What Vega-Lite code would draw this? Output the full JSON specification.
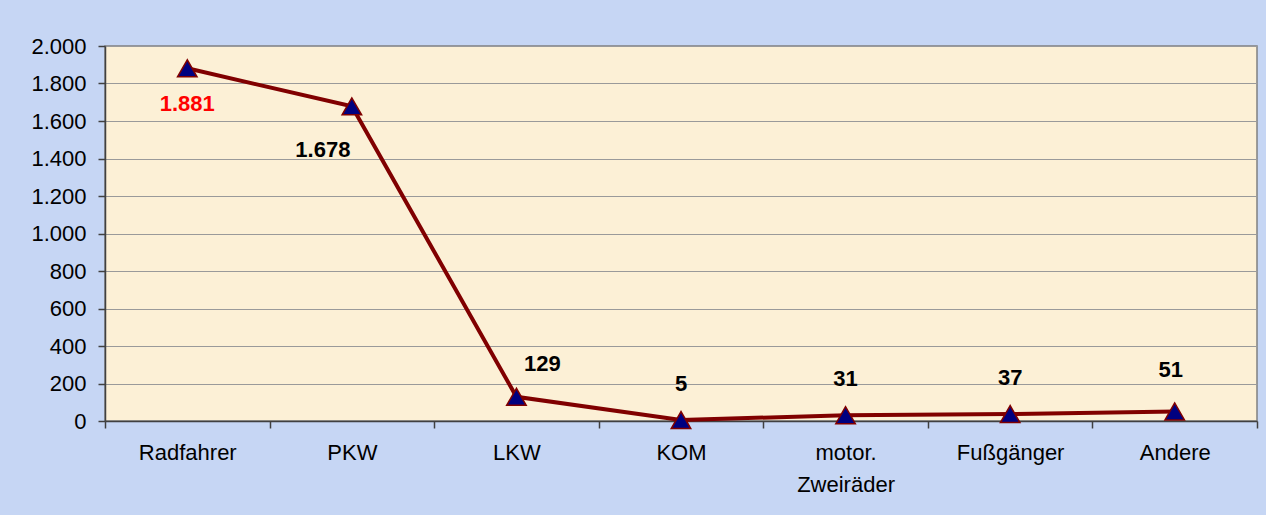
{
  "$schema": "https://vega.github.io/schema/vega-lite/v6.json",
  "width": 1152,
  "height": 375,
  "autosize": "none",
  "padding": {"left": 105, "top": 46, "right": 9, "bottom": 94},
  "background": "#c6d6f4",
  "config": {
    "font": "Liberation Sans",
    "locale": {"number": {"decimal": ",", "thousands": ".", "grouping": [3], "currency": ["", " €"]}},
    "view": {"fill": "#fcf0d6", "stroke": "#808080", "strokeWidth": 1.5}
  },
  "data": {
    "values": [
      {"Kategorie": "Radfahrer", "Anzahl": 1881},
      {"Kategorie": "PKW", "Anzahl": 1678},
      {"Kategorie": "LKW", "Anzahl": 129},
      {"Kategorie": "KOM", "Anzahl": 5},
      {"Kategorie": "motor. Zweiräder", "Anzahl": 31},
      {"Kategorie": "Fußgänger", "Anzahl": 37},
      {"Kategorie": "Andere", "Anzahl": 51}
    ]
  },
  "encoding": {
    "x": {
      "field": "Kategorie",
      "type": "nominal",
      "sort": null,
      "scale": {"type": "band", "paddingInner": 0, "paddingOuter": 0},
      "axis": {
        "title": null,
        "labelAngle": 0,
        "tickBand": "extent",
        "grid": false,
        "domainColor": "#404040",
        "domainWidth": 1.5,
        "tickColor": "#404040",
        "tickSize": 7,
        "tickWidth": 1.5,
        "labelFontSize": 22,
        "labelColor": "#000000",
        "labelPadding": 14,
        "labelLineHeight": 32,
        "labelExpr": "datum.label == 'motor. Zweiräder' ? ['motor.', 'Zweiräder'] : datum.label"
      }
    },
    "y": {
      "field": "Anzahl",
      "type": "quantitative",
      "scale": {"domain": [0, 2000], "nice": false},
      "axis": {
        "title": null,
        "values": [0, 200, 400, 600, 800, 1000, 1200, 1400, 1600, 1800, 2000],
        "format": ",d",
        "grid": true,
        "gridColor": "#9a9a9a",
        "gridWidth": 1,
        "domainColor": "#404040",
        "domainWidth": 1.5,
        "tickColor": "#404040",
        "tickSize": 7,
        "tickWidth": 1.5,
        "labelFontSize": 22,
        "labelColor": "#000000",
        "labelPadding": 12
      }
    }
  },
  "layer": [
    {"mark": {"type": "line", "color": "#800000", "strokeWidth": 4}},
    {"mark": {"type": "point", "shape": "triangle-up", "filled": true, "fill": "#000080", "stroke": "#800000", "strokeWidth": 1.5, "size": 380, "opacity": 1}},
    {
      "transform": [{"filter": "datum.Kategorie == 'Radfahrer'"}],
      "mark": {"type": "text", "fontSize": 22, "fontWeight": "bold", "color": "#ff0000", "baseline": "middle", "align": "center", "dy": 36},
      "encoding": {"text": {"field": "Anzahl", "type": "quantitative", "format": ",d"}}
    },
    {
      "transform": [{"filter": "datum.Kategorie == 'PKW'"}],
      "mark": {"type": "text", "fontSize": 22, "fontWeight": "bold", "color": "#000000", "baseline": "middle", "align": "center", "dx": -29, "dy": 44},
      "encoding": {"text": {"field": "Anzahl", "type": "quantitative", "format": ",d"}}
    },
    {
      "transform": [{"filter": "datum.Kategorie == 'LKW'"}],
      "mark": {"type": "text", "fontSize": 22, "fontWeight": "bold", "color": "#000000", "baseline": "middle", "align": "center", "dx": 26, "dy": -33},
      "encoding": {"text": {"field": "Anzahl", "type": "quantitative", "format": ",d"}}
    },
    {
      "transform": [{"filter": "indexof(['KOM', 'motor. Zweiräder', 'Fußgänger'], datum.Kategorie) >= 0"}],
      "mark": {"type": "text", "fontSize": 22, "fontWeight": "bold", "color": "#000000", "baseline": "middle", "align": "center", "dy": -36},
      "encoding": {"text": {"field": "Anzahl", "type": "quantitative", "format": ",d"}}
    },
    {
      "transform": [{"filter": "datum.Kategorie == 'Andere'"}],
      "mark": {"type": "text", "fontSize": 22, "fontWeight": "bold", "color": "#000000", "baseline": "middle", "align": "center", "dx": -4, "dy": -41},
      "encoding": {"text": {"field": "Anzahl", "type": "quantitative", "format": ",d"}}
    }
  ]
}
